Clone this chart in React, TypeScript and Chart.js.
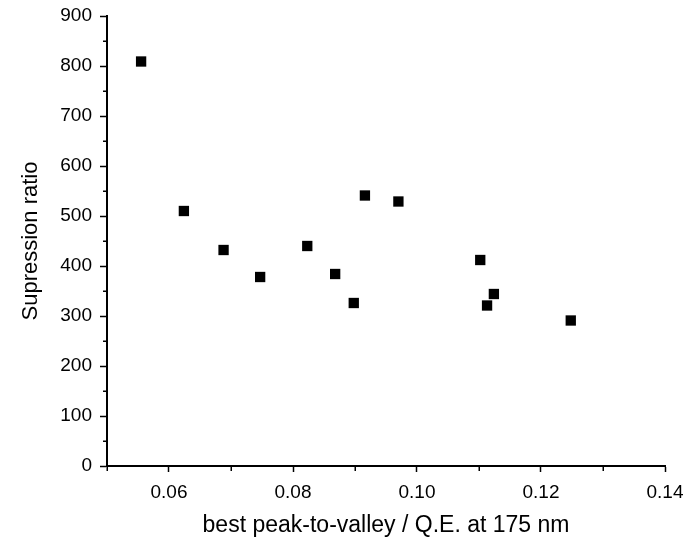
import React, { useEffect, useRef } from "react";
import { Chart, registerables } from "chart.js";

Chart.register(...registerables);

const xValues = [0.0555, 0.0624, 0.0688, 0.0747, 0.0823, 0.0868, 0.0898, 0.0916, 0.097, 0.1102, 0.1113, 0.1124, 0.1248];
const yValues = [809, 510, 432, 378, 440, 384, 326, 541, 529, 412, 321, 344, 291];

const xMajorTicks = [0.06, 0.08, 0.1, 0.12, 0.14];
const xMinorTicks = [0.05, 0.07, 0.09, 0.11, 0.13];
const yMajorTicks = [0, 100, 200, 300, 400, 500, 600, 700, 800, 900];
const yMinorTicks = [50, 150, 250, 350, 450, 550, 650, 750, 850];

const xTitle = "best peak-to-valley / Q.E. at 175 nm";
const yTitle = "Supression ratio";

const FONT = "'Liberation Sans', Arial, sans-serif";

const minorTickPlugin = {
  id: "minorTicks",
  afterDraw(chart: any) {
    const { ctx, chartArea } = chart;
    const x = chart.scales.x;
    const y = chart.scales.y;
    ctx.save();
    ctx.strokeStyle = "#000";
    ctx.lineWidth = 1.5;
    xMinorTicks.forEach((v) => {
      const px = Math.round(x.getPixelForValue(v)) + 0.25;
      ctx.beginPath();
      ctx.moveTo(px, chartArea.bottom);
      ctx.lineTo(px, chartArea.bottom + 5);
      ctx.stroke();
    });
    yMinorTicks.forEach((v) => {
      const py = Math.round(y.getPixelForValue(v)) + 0.25;
      ctx.beginPath();
      ctx.moveTo(chartArea.left, py);
      ctx.lineTo(chartArea.left - 4, py);
      ctx.stroke();
    });
    ctx.restore();
  },
};

export default function App() {
  const ref = useRef<HTMLCanvasElement | null>(null);

  useEffect(() => {
    if (!ref.current) return;
    const chart = new Chart(ref.current, {
      type: "scatter",
      data: {
        datasets: [
          {
            data: xValues.map((xv, i) => ({ x: xv, y: yValues[i] })),
            pointStyle: "rect",
            pointRadius: 7.3,
            pointHoverRadius: 7.3,
            backgroundColor: "#000",
            borderColor: "#000",
            borderWidth: 0,
          },
        ],
      },
      options: {
        animation: false,
        responsive: false,
        devicePixelRatio: 1,
        layout: { padding: { top: 16, right: 33, left: 0, bottom: 0 } },
        plugins: {
          legend: { display: false },
          tooltip: { enabled: false },
        },
        scales: {
          x: {
            type: "linear",
            min: 0.05,
            max: 0.14,
            afterBuildTicks: (scale: any) => {
              scale.ticks = xMajorTicks.map((v) => ({ value: v }));
            },
            afterFit: (scale: any) => {
              scale.height = 73;
              scale.paddingLeft = 0;
              scale.paddingRight = 0;
            },
            grid: {
              display: true,
              drawOnChartArea: false,
              drawTicks: true,
              tickLength: 6,
              tickWidth: 1.5,
              tickColor: "#000",
            },
            border: { display: true, color: "#000", width: 2 },
            ticks: {
              color: "#000",
              font: { family: FONT, size: 19 },
              padding: 9,
              maxRotation: 0,
              callback: (v: any) => Number(v).toFixed(2),
            },
            title: {
              display: true,
              text: xTitle,
              color: "#000",
              font: { family: FONT, size: 23 },
              padding: { top: 0, bottom: 0 },
            },
          },
          y: {
            type: "linear",
            min: 0,
            max: 900,
            afterBuildTicks: (scale: any) => {
              scale.ticks = yMajorTicks.map((v) => ({ value: v }));
            },
            afterFit: (scale: any) => {
              scale.width = 107;
              scale.paddingTop = 0;
              scale.paddingBottom = 0;
            },
            grid: {
              display: true,
              drawOnChartArea: false,
              drawTicks: true,
              tickLength: 7,
              tickWidth: 1.5,
              tickColor: "#000",
            },
            border: { display: true, color: "#000", width: 2 },
            ticks: {
              color: "#000",
              font: { family: FONT, size: 19 },
              padding: 8,
              callback: (v: any) => String(v),
            },
            title: {
              display: true,
              text: yTitle,
              color: "#000",
              font: { family: FONT, size: 22 },
              padding: { top: 18, bottom: 0 },
            },
          },
        },
      },
      plugins: [minorTickPlugin],
    });
    return () => chart.destroy();
  }, []);

  return (
    <div style={{ position: "absolute", left: 0, top: 0, width: 698, height: 539, background: "#fff" }}>
      <canvas ref={ref} width={698} height={539} style={{ display: "block", width: 698, height: 539 }} />
    </div>
  );
}
